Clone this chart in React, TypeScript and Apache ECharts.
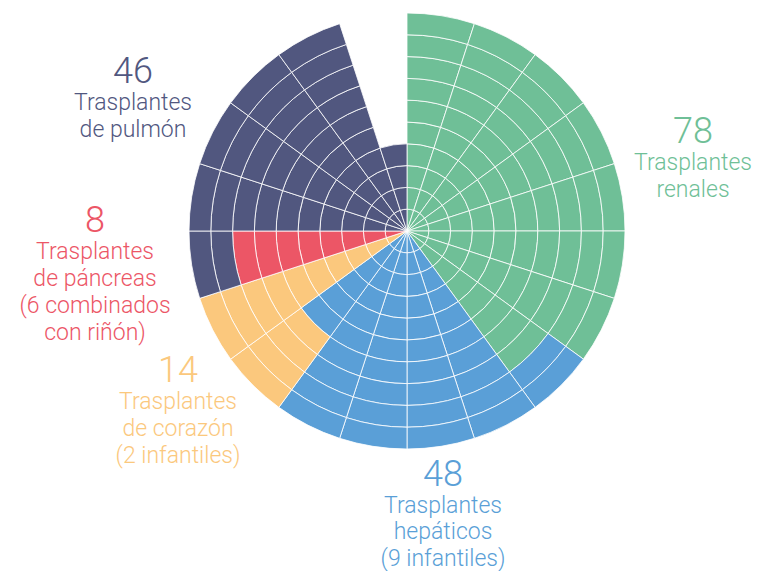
import React, { useEffect, useRef } from "react";
import * as echarts from "echarts";

// Data
const categories = [
  "Trasplantes renales",
  "Trasplantes hepáticos",
  "Trasplantes de corazón",
  "Trasplantes de páncreas",
  "Trasplantes de pulmón",
];
const values = [78, 48, 14, 8, 46];
const labelLines = [
  ["Trasplantes", "renales"],
  ["Trasplantes", "hepáticos", "(9 infantiles)"],
  ["Trasplantes", "de corazón", "(2 infantiles)"],
  ["Trasplantes", "de páncreas", "(6 combinados", "con riñón)"],
  ["Trasplantes", "de pulmón"],
];
const sectorCount = 20;
const ringCount = 10;

// Styles / layout
const colors = ["#6fbf97", "#5a9fd7", "#fbc87d", "#ec5666", "#51577f"];
const labelAnchors = [
  [693, 131],
  [443, 474],
  [178, 370],
  [95, 220],
  [133, 71],
];
const lineGap = [27, 26.5, 27, 27, 27];
const FONT = "Roboto, 'Liberation Sans', sans-serif";

export default function App() {
  const ref = useRef<HTMLDivElement>(null);
  useEffect(() => {
    if (!ref.current) return;
    const chart = echarts.init(ref.current, null, { renderer: "svg" });

    // fill cells sector by sector, ring by ring (one cell = one transplant)
    const cells: (number | null)[][] = [];
    for (let s = 0; s < sectorCount; s++) {
      cells.push(new Array(ringCount).fill(null));
    }
    let idx = 0;
    values.forEach((v, c) => {
      for (let k = 0; k < v; k++) {
        const s = Math.floor(idx / ringCount);
        const r = idx % ringCount;
        if (s < sectorCount) cells[s][r] = c;
        idx++;
      }
    });

    const sectors = Array.from({ length: sectorCount }, (_, i) => String(i));
    const series: any[] = [];
    for (let r = 0; r < ringCount; r++) {
      series.push({
        type: "bar",
        coordinateSystem: "polar",
        stack: "cells",
        barCategoryGap: "0%",
        barGap: "0%",
        silent: true,
        data: cells.map((col) =>
          col[r] === null
            ? "-"
            : {
                value: 1,
                name: categories[col[r] as number],
                itemStyle: {
                  color: colors[col[r] as number],
                  borderColor: "rgba(255,255,255,0.8)",
                  borderWidth: 1,
                },
              }
        ),
      });
    }

    const graphics: any[] = [];
    labelAnchors.forEach(([x, y], c) => {
      graphics.push({
        type: "text",
        x,
        y,
        style: {
          text: String(values[c]),
          fill: colors[c],
          font: `300 36px ${FONT}`,
          textAlign: "center",
          textVerticalAlign: "middle",
        },
      });
      graphics.push({
        type: "text",
        x,
        y: y + 30 - 12,
        style: {
          text: labelLines[c].join("\n"),
          fill: colors[c],
          font: `300 23px ${FONT}`,
          lineHeight: lineGap[c],
          textAlign: "center",
          textVerticalAlign: "top",
        },
      });
    });

    chart.setOption({
      animation: false,
      polar: { center: [407, 231], radius: [0, 218] },
      angleAxis: {
        type: "category",
        data: sectors,
        startAngle: 90,
        clockwise: true,
        boundaryGap: true,
        axisLine: { show: false },
        axisTick: { show: false },
        axisLabel: { show: false },
        splitLine: { show: false },
      },
      radiusAxis: {
        type: "value",
        min: 0,
        max: ringCount,
        axisLine: { show: false },
        axisTick: { show: false },
        axisLabel: { show: false },
        splitLine: { show: false },
      },
      series,
      graphic: graphics,
    });
    return () => chart.dispose();
  }, []);
  return (
    <div
      ref={ref}
      style={{ position: "fixed", left: 0, top: 0, width: 758, height: 571, background: "#fff" }}
    />
  );
}
